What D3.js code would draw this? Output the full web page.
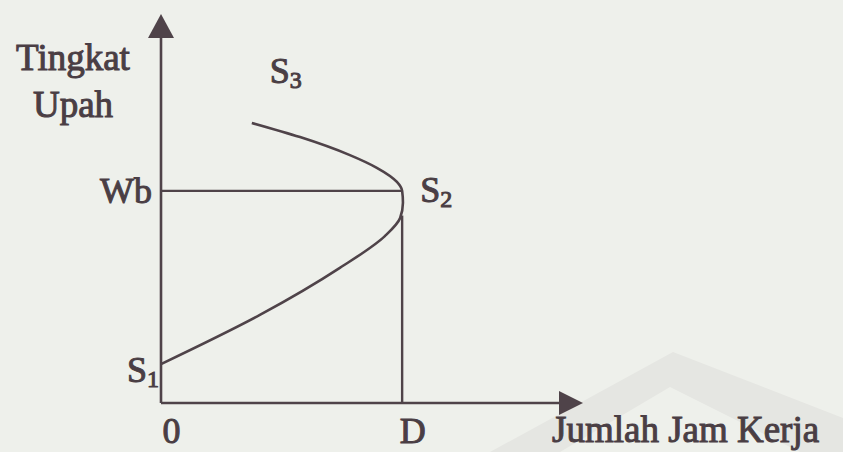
<html>
<head>
  <script src="https://d3js.org/d3.v7.min.js"></script>
  <meta charset="utf-8">
  <title>Kurva Penawaran Tenaga Kerja</title>
<style>
body {
  margin: 0;
  background: #eef0eb;
}
svg {
  display: block;
  background: #eef0eb;
}
text {
  font-family: "Liberation Serif", serif;
  fill: #4a3e44;
  stroke: #4a3e44;
  stroke-width: 1px;
}
</style>
</head>
<body>
<script>
var width = 843,
    height = 452;

// axis titles
var yTitle = ['Tingkat', 'Upah'];
var xTitle = 'Jumlah Jam Kerja';

// tick labels
var xTickValues = [0, 6];
var xTickLabels = ['0', 'D'];
var yTickValues = [6];
var yTickLabels = ['Wb'];

// backward bending supply curve (hours, wage)
var curveHours = [0, 2.46, 4.45, 5.57, 5.95, 6.02, 6.0, 5.87, 5.37, 4.7, 3.46, 2.26];
var curveWage  = [1.1, 2.49, 3.82, 4.72, 5.23, 5.66, 6.0, 6.25, 6.65, 7.01, 7.52, 7.92];

// point labels S1, S2, S3 (index into the curve)
var pointNames = ['S', 'S', 'S'];
var pointSubs = ['1', '2', '3'];
var pointIndex = [0, 6, 11];

var ink = '#4f4349';

var svg = d3.select('body').append('svg')
  .attr('width', width)
  .attr('height', height);

// faint watermark in the corner of the scan
svg.append('polygon')
  .attr('points', '490,452 673,352 843,418 843,452 800,452 670,387 560,452')
  .style('fill', '#e5e6e2');

var x = d3.scaleLinear().domain([0, 10.5]).range([161, 583]);
var y = d3.scaleLinear().domain([0, 11]).range([403, 14]);

var data = curveHours.map(function (h, i) {
  return {h: h, w: curveWage[i]};
});

// x axis
var xAxis = svg.append('g')
  .attr('transform', 'translate(0,' + y(0) + ')')
  .call(d3.axisBottom(x)
    .tickValues(xTickValues)
    .tickFormat(function (d, i) { return xTickLabels[i]; })
    .tickSize(0)
    .tickSizeOuter(0));

xAxis.select('.domain')
  .attr('d', 'M' + x(0) + ',0H' + (x(10.5) - 12))
  .style('stroke', ink)
  .style('stroke-width', 2.6);

xAxis.selectAll('.tick text')
  .attr('y', 40)
  .attr('dy', 0)
  .attr('dx', 10)
  .attr('font-family', '"Liberation Serif", serif')
  .style('font-size', '36px');

// y axis
var yAxis = svg.append('g')
  .attr('transform', 'translate(' + x(0) + ',0)')
  .call(d3.axisLeft(y)
    .tickValues(yTickValues)
    .tickFormat(function (d, i) { return yTickLabels[i]; })
    .tickSize(0)
    .tickSizeOuter(0));

yAxis.select('.domain')
  .attr('d', 'M0,' + y(0) + 'V' + (y(11) + 12))
  .style('stroke', ink)
  .style('stroke-width', 2.6);

yAxis.selectAll('.tick text')
  .attr('x', -9)
  .attr('dy', 12)
  .attr('font-family', '"Liberation Serif", serif')
  .style('font-size', '36px');

// arrow heads
svg.append('path')
  .attr('d', 'M' + x(10.5) + ',' + y(0) + 'l-24,-12v24z')
  .style('fill', ink);
svg.append('path')
  .attr('d', 'M' + x(0) + ',' + y(11) + 'l-13,24h26z')
  .style('fill', ink);

// guide lines Wb and D
svg.append('line')
  .attr('x1', x(0)).attr('x2', x(6))
  .attr('y1', y(6)).attr('y2', y(6))
  .style('stroke', ink)
  .style('stroke-width', 2.2);

svg.append('line')
  .attr('x1', x(6)).attr('x2', x(6))
  .attr('y1', y(0)).attr('y2', y(5.3))
  .style('stroke', ink)
  .style('stroke-width', 2.4);

// supply curve
var line = d3.line()
  .x(function (d) { return x(d.h); })
  .y(function (d) { return y(d.w); })
  .curve(d3.curveMonotoneY);

svg.append('path')
  .datum(data)
  .attr('d', line)
  .style('fill', 'none')
  .style('stroke', ink)
  .style('stroke-width', 2.6);

// point labels
var labelOffsets = [[-34, 18], [18, 11], [18, -40]];
pointIndex.forEach(function (k, i) {
  var t = svg.append('text')
    .attr('x', x(data[k].h) + labelOffsets[i][0])
    .attr('y', y(data[k].w) + labelOffsets[i][1])
    .style('font-size', '36px')
    .text(pointNames[i]);
  t.append('tspan')
    .attr('dy', 5)
    .style('font-size', '24px')
    .text(pointSubs[i]);
});

// axis titles
svg.selectAll('.ytitle')
  .data(yTitle)
  .enter()
  .append('text')
  .attr('class', 'ytitle')
  .attr('x', 73)
  .attr('y', function (d, i) { return 70 + i * 47; })
  .attr('text-anchor', 'middle')
  .style('font-size', '37px')
  .text(function (d) { return d; });

svg.append('text')
  .attr('x', 552)
  .attr('y', 442)
  .style('font-size', '37px')
  .text(xTitle);

</script>
</body>
</html>
